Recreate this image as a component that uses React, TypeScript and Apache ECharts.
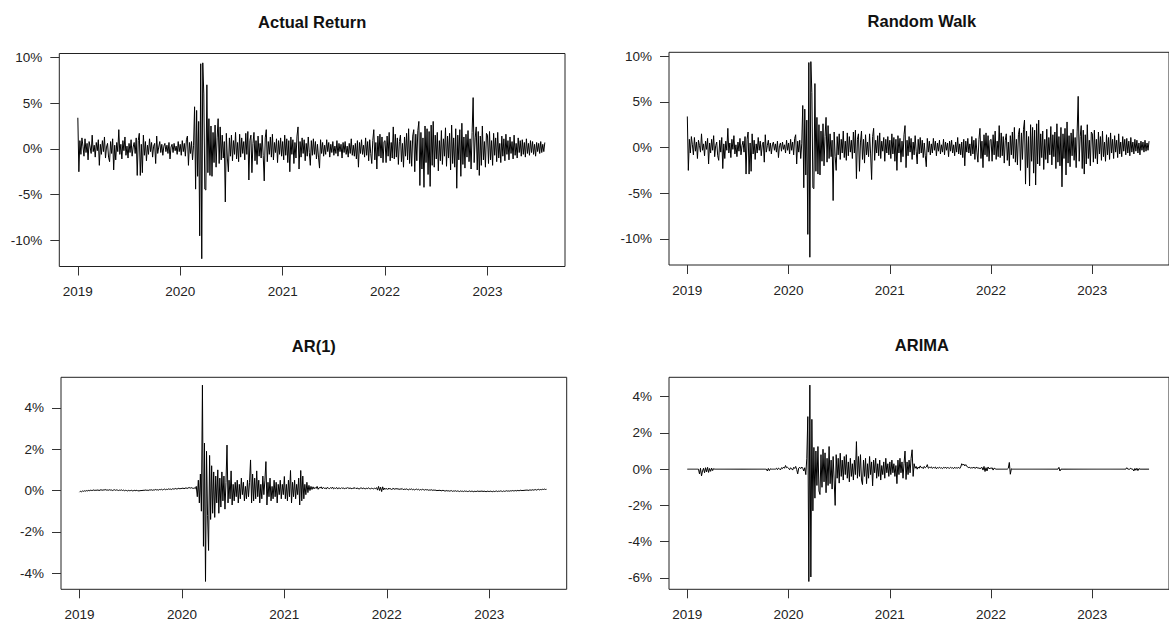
import React, { useEffect, useRef } from "react";
import * as echarts from "echarts";

// Tick labels on the time axis (years)
const yearTicks = [2019, 2020, 2021, 2022, 2023];
// Titles of the four panels
const panelTitles = ["Actual Return", "Random Walk", "AR(1)", "ARIMA"];
// Y tick values (percent) per panel
const yTicksActual = [-10, -5, 0, 5, 10];
const yTicksAR = [-4, -2, 0, 2, 4];
const yTicksARIMA = [-6, -4, -2, 0, 2, 4];

const actual2019 = [
  3.4, -2.5, 0.9, -0.6, 1.2, 0.3, -0.8, 1.1, -0.4, 0.6,
  -1.2, 0.8, 0.2, -0.5, 1.5, -0.3, 0.4, -0.9, 0.7, -0.2,
  1.0, -1.8, 0.5, -0.6, 0.9, -0.3, 1.3, -1.0, 0.2, 0.6,
  -0.9, -1.4, 0.8, -0.5, 1.1, -2.3, 0.4, -1.2, 0.7, -0.3,
  2.1, -0.6, 0.5, -1.1, 0.9, -0.2, 1.3, -0.7, 0.3, -1.0,
  0.6, -0.4, 1.0, -0.8, 0.2, 0.7, -0.5, 1.2, -2.9, 0.9,
  1.7, -2.9, 0.5, -2.6, 1.5, -0.7, 0.8, -1.3, 0.4, -0.6,
  1.1, -0.3, 0.7, -0.9, 0.3, 0.6, -1.6, 1.4, -0.5, 0.2,
  0.8, -0.4, 0.5, -0.7, 0.3, 0.6, -0.3, 0.4, -0.5, 0.7,
  -1.1, 0.2, 0.5, -0.4, 0.6, -0.2, 0.3, -0.6, 0.8, -0.3,
];
const actual2020 = [
  0.5, -0.7, 0.9, -0.3, 0.6, -0.8, 1.0, 1.4, -1.8, 0.7,
  -0.5, 0.8, -1.2, 0.4, 4.6, -4.4, 4.2, -3.0, 3.0, -9.5,
  9.3, -12.0, 9.4, 6.0, -4.4, -4.5, 7.0, -2.6, 3.3, -2.9,
  2.5, -3.0, 1.8, -1.5, 2.6, -2.0, 1.2, 3.3, -1.6, 2.4,
  -1.2, 1.5, -1.0, 0.8, -5.8, 1.7, -1.0, -2.5, 1.2, -0.8,
  1.5, -1.3, 0.9, -0.6, 1.8, -1.1, 0.7, -1.4, 1.6, -0.9,
  1.2, -0.5, 0.8, -1.2, 1.7, -0.6, 1.9, -3.4, 0.9, 1.5,
  -2.6, 0.6, 1.8, -1.3, 0.9, -1.7, 1.4, -0.8, 0.6, -1.0,
  1.5, -0.7, -3.5, 1.2, 2.1, -1.4, 0.8, -0.6, 1.3, -0.9,
  1.6, -1.2, 0.7, -0.4, 1.1, -1.5, 0.9, -0.6, 1.2, -0.8,
];
const actual2021 = [
  0.8, -1.2, 1.5, -0.7, 1.1, -1.5, 0.9, -2.5, 1.3, -0.6,
  1.0, -1.6, 0.7, -1.0, 1.4, 2.4, -2.2, 0.8, -0.9, 1.2,
  -0.5, 1.0, -1.3, 0.6, -0.8, 1.3, -0.4, -1.8, 0.9, -0.7,
  1.1, -0.6, 0.8, -1.1, 0.5, -0.9, -2.1, 1.0, -0.5, 0.7,
  -0.8, 0.4, -0.6, 1.0, -0.3, 0.7, -0.9, 0.5, -0.4, 0.8,
  -0.7, 0.3, -0.5, 0.9, -0.8, 0.6, -0.3, 0.5, -1.0, 0.7,
  -0.4, 0.8, -0.6, 0.3, -0.9, 0.6, -0.5, 1.1, -0.7, 0.4,
  -0.8, 0.6, -1.1, 0.9, -2.0, 0.7, -0.5, 1.0, -0.6, 0.4,
  -0.9, 1.2, -0.7, 0.8, -1.3, 1.0, -0.5, -1.6, 0.9, 2.1,
  -1.2, 0.7, -2.2, 1.4, -0.8, 1.6, -1.0, 1.3, -1.5, 0.8,
];
const actual2022 = [
  0.9, -1.5, 1.4, -0.8, 1.8, -1.3, 0.7, -1.0, 2.4, -1.1,
  1.6, -0.9, 1.2, -1.7, 0.8, 1.5, -1.4, 0.6, -2.0, 1.3,
  -0.8, 1.7, -1.2, 2.2, -1.6, 0.9, -1.9, 1.4, 2.1, -2.5,
  1.6, -1.3, 2.0, 3.0, -4.0, 1.8, -2.2, 1.2, -4.2, 2.5,
  -1.5, 2.2, -2.8, 1.9, -4.1, 2.6, -1.8, 3.0, -2.0, 1.5,
  -1.1, 1.8, -2.4, 0.9, -1.3, 2.0, -1.7, 1.1, -0.8, 2.3,
  -1.9, 1.4, -1.0, 1.7, -2.3, 2.6, -1.6, 1.2, -2.0, 2.2,
  -4.3, 1.5, -1.2, 2.1, -3.0, 2.8, -1.7, 1.3, -2.1, 1.6,
  -0.9, 2.0, -1.4, 1.1, -2.2, 1.8, 5.6, -1.5, 1.2, 2.4,
  -2.3, 1.9, -2.9, 1.4, -1.8, 2.5, -1.2, 0.8, -2.0, 1.7,
];
const actual2023 = [
  1.5, -1.6, 1.9, -1.2, 0.9, -1.8, 1.7, -0.7, 1.2, -1.4,
  1.8, -1.0, 0.6, -1.5, 1.4, -0.8, 1.1, -1.3, 1.6, -0.6,
  0.9, -1.2, 1.3, -0.5, 0.8, -1.1, 1.5, -0.7, 0.6, -1.0,
  1.2, -0.4, 0.9, -0.8, 1.0, -0.6, 0.7, -0.9, 1.1, -0.5,
  0.6, -0.7, 0.9, -0.4, 0.8, -0.6, 0.5, -0.8, 0.7, -0.3,
  0.6, -0.5, 0.8, -0.4, 0.5, -0.3, 0.7,
];

// AR(1) fitted returns (%)
const ar2019 = [
  -0.08, -0.03, -0.06, -0.02, -0.04, -0.01, -0.03, 0.0, -0.02, 0.01,
  -0.01, 0.02, 0.0, 0.01, 0.03, 0.0, 0.02, 0.01, 0.03, 0.0,
  0.02, 0.04, 0.01, 0.03, 0.02, 0.05, 0.02, 0.03, 0.01, 0.04,
  0.02, 0.03, 0.0, 0.02, 0.04, 0.01, 0.03, 0.02, 0.0, 0.02,
  0.01, 0.03, 0.0, 0.02, -0.01, 0.01, 0.0, -0.02, 0.01, -0.01,
  0.0, 0.01, -0.02, 0.0, 0.01, -0.01, 0.02, -0.03, 0.0, -0.02,
  0.01, -0.01, 0.02, 0.0, 0.03, 0.01, 0.02, 0.0, 0.03, 0.02,
  0.04, 0.01, 0.03, 0.02, 0.05, 0.03, 0.04, 0.02, 0.05, 0.04,
  0.06, 0.03, 0.05, 0.07, 0.04, 0.06, 0.05, 0.08, 0.06, 0.07,
  0.05, 0.09, 0.07, 0.08, 0.1, 0.07, 0.09, 0.11, 0.08, 0.1,
];
const ar2020 = [
  0.1, 0.12, 0.09, 0.11, 0.13, 0.1, 0.12, 0.15, 0.11, 0.14,
  0.12, 0.1, 0.13, 0.09, 0.2, -0.3, 0.5, -0.6, 0.8, -1.0,
  5.1, -2.7, 2.3, -4.4, 1.9, -1.2, -2.9, 1.7, -1.4, 1.2,
  -1.1, 0.9, -1.3, 0.7, -0.6, 1.0, -1.1, 0.6, -0.8, 0.9,
  -0.5, 0.7, -0.9, 0.4, 2.2, -0.6, 0.5, -0.4, 0.95, -0.7,
  0.3, -0.5, 0.4, -0.3, 0.5, -0.6, 0.3, -0.4, 0.6, -0.2,
  0.4, -0.5, 0.2, -0.4, 0.5, -0.3, 0.4, 1.48, -0.6, 0.8,
  -0.5, 0.6, -0.4, 0.95, -0.3, 0.5, -0.6, 0.3, -0.4, 0.7,
  -0.2, 0.5, 1.4, -0.7, 0.4, -0.3, 0.6, -0.5, 0.2, -0.4,
  0.5, -0.3, 0.4, -0.6, 0.3, -0.2, 0.5, -0.4, 0.3, -0.2,
];
const ar2021 = [
  0.68, -0.4, 0.3, -0.5, 0.5, -0.3, 0.97, -0.6, 0.4, -0.3,
  0.5, -0.4, 0.3, -0.2, 0.6, -0.7, 0.97, -0.5, 0.7, -0.4,
  0.3, -0.2, 0.4, -0.1, 0.25, 0.0, 0.2, 0.05, 0.18, 0.08,
  0.15, 0.1, 0.2, 0.06, 0.14, 0.12, 0.18, 0.08, 0.15, 0.1,
  0.13, 0.07, 0.16, 0.11, 0.09, 0.14, 0.1, 0.17, 0.08, 0.12,
  0.1, 0.15, 0.07, 0.13, 0.11, 0.09, 0.14, 0.1, 0.12, 0.08,
  0.13, 0.1, 0.15, 0.09, 0.12, 0.11, 0.08, 0.13, 0.1, 0.14,
  0.09, 0.12, 0.1, 0.07, 0.11, 0.13, 0.09, 0.12, 0.1, 0.08,
  0.11, 0.09, 0.13, 0.1, 0.07, 0.12, 0.1, 0.08, 0.11, 0.09,
  0.14, 0.02, 0.2, 0.0, 0.16, -0.05, 0.18, 0.03, 0.12, 0.06,
];
const ar2022 = [
  0.1, 0.05, 0.12, 0.07, 0.09, 0.04, 0.11, 0.08, 0.06, 0.1,
  0.07, 0.09, 0.05, 0.08, 0.06, 0.1, 0.04, 0.07, 0.05, 0.08,
  0.06, 0.03, 0.07, 0.05, 0.08, 0.04, 0.06, 0.03, 0.05, 0.07,
  0.04, 0.06, 0.02, 0.05, 0.03, 0.06, 0.04, 0.02, 0.05, 0.03,
  0.04, 0.01, 0.03, 0.02, 0.04, 0.0, 0.03, 0.01, 0.02, -0.01,
  0.01, 0.0, 0.02, -0.02, 0.0, 0.01, -0.01, -0.03, 0.0, -0.02,
  -0.01, -0.03, -0.02, 0.0, -0.04, -0.02, -0.03, -0.01, -0.04, -0.02,
  -0.03, -0.05, -0.02, -0.04, -0.03, -0.05, -0.02, -0.04, -0.03, -0.05,
  -0.04, -0.02, -0.05, -0.03, -0.04, -0.06, -0.03, -0.05, -0.04, -0.02,
  -0.05, -0.03, -0.04, -0.02, -0.05, -0.03, -0.04, -0.06, -0.03, -0.04,
];
const ar2023 = [
  -0.05, -0.03, -0.04, -0.06, -0.03, -0.05, -0.04, -0.02, -0.05, -0.03,
  -0.04, -0.02, -0.03, -0.05, -0.02, -0.04, -0.03, -0.01, -0.03, -0.02,
  -0.03, -0.01, -0.02, 0.0, -0.02, -0.01, 0.0, -0.02, 0.01, -0.01,
  0.0, 0.02, -0.01, 0.01, 0.0, 0.02, 0.01, 0.03, 0.0, 0.02,
  0.03, 0.01, 0.04, 0.02, 0.03, 0.05, 0.02, 0.04, 0.06, 0.03,
  0.05, 0.04, 0.06, 0.05, 0.07, 0.05, 0.06,
];

// ARIMA fitted returns (%)
const arima2019 = [
  0, 0, 0, 0, 0, 0, 0, 0, 0, 0,
  0, 0, -0.26, 0.05, -0.37, -0.1, 0.05, -0.2, 0.08, -0.15,
  0.1, -0.18, 0.04, -0.12, 0.06, -0.08, 0.03, 0, 0, 0,
  0, 0, 0, 0, 0, 0, 0, 0, 0, 0,
  0, 0, 0, 0, 0, 0, 0, 0, 0, 0,
  0, 0, 0, 0, 0, 0, 0, 0, 0, 0,
  0, 0, 0, 0, 0, 0, 0, 0, 0, 0,
  0, 0, 0, 0, 0, 0, 0, 0, 0, -0.1,
  0.04, -0.08, 0.02, 0, 0, 0, 0, 0, 0.05, -0.03,
  0.06, 0.02, -0.04, 0.08, 0.03, 0.12, 0.05, 0.2, 0.08, 0.1,
];
const arima2020 = [
  0.05, -0.03, 0.08, 0.02, -0.05, 0.1, 0.04, 0.15, -0.02, -0.26,
  0.06, 0.1, 0.03, 0.12, 0.05, -0.1, 0.08, -0.3, 0.6, 2.9,
  -6.2, 4.64, -5.95, 2.75, -2.3, 1.2, -1.6, 1.0, -0.9, 1.25,
  -1.2, -1.4, 0.8, -1.0, 1.1, -0.7, 0.9, -1.3, 0.6, -0.9,
  1.25, -0.8, 0.5, -1.1, 0.7, -0.6, -2.0, 0.8, -0.5, 0.6,
  -0.77, 0.88, -0.4, 0.5, -0.6, 0.7, -0.3, 0.8, -0.5, 0.4,
  -0.7, 0.6, -0.4, 0.3, -0.6, 0.5, -0.3, 1.52, -0.5, 0.7,
  -0.4, 0.8, -0.6, -0.85, 0.5, -0.4, 0.6, -0.8, 0.3, -0.5,
  0.7, -0.3, 0.4, -0.92, 0.5, -0.2, 0.6, -0.5, 0.3, -0.4,
  0.5, -0.6, 0.2, -0.3, 0.4, -0.5, 0.6, -0.2, 0.3, -0.4,
];
const arima2021 = [
  0.4, -0.3, 0.5, -0.2, 0.3, -0.4, 0.2, -0.8, 0.5, -0.3,
  0.6, -0.2, 0.4, -0.5, 0.3, 1.0, -0.57, 0.4, -0.3, 0.5,
  -0.2, 0.6, 1.07, -0.4, 0.3, 0.05, 0.15, 0.0, 0.12, 0.05,
  0.18, 0.08, 0.1, 0.03, 0.15, 0.07, 0.12, 0.25, 0.05, 0.1,
  0.08, 0.13, 0.04, 0.1, 0.07, 0.12, 0.02, 0.09, 0.06, 0.11,
  0.05, 0.08, 0.03, 0.1, 0.06, 0.12, 0.04, 0.09, 0.07, 0.05,
  0.1, 0.06, 0.08, 0.03, 0.11, 0.05, 0.08, 0.06, 0.1, 0.04,
  0.12, 0.3, 0.22, 0.28, 0.18, 0.25, 0.15, 0.12, 0.08, 0.1,
  0.05, 0.09, 0.06, 0.12, 0.04, 0.08, 0.1, 0.05, 0.07, 0.03,
  0.06, 0.1, -0.05, 0.15, -0.13, 0.08, -0.1, 0.12, 0.02, 0.06,
];
const arima2022 = [
  0.04, 0.08, -0.05, 0.06, 0.02, 0, 0, 0, 0, 0,
  0, 0, 0, 0, 0, 0, 0, 0.05, 0.37, -0.28,
  0.02, 0, 0, 0, 0, 0, 0, 0, 0, 0,
  0, 0, 0, 0, 0, 0, 0, 0, 0, 0,
  0, 0, 0, 0, 0, 0, 0, 0, 0, 0,
  0, 0, 0, 0, 0, 0, 0, 0, 0, 0,
  0, 0, 0, 0, 0, 0, 0, 0.1, -0.1, 0,
  0, 0, 0, 0, 0, 0, 0, 0, 0, 0,
  0, 0, 0, 0, 0, 0, 0, 0, 0, 0,
  0, 0, 0, 0, 0, 0, 0, 0, 0, 0,
];
const arima2023 = [
  0, 0, 0, 0, 0, 0, 0, 0, 0, 0,
  0, 0, 0, 0, 0, 0, 0, 0, 0, 0,
  0, 0, 0, 0, 0, 0, 0, 0, 0, 0,
  0, 0, 0, 0, 0.08, 0, 0, 0, 0.05, 0,
  0, -0.1, 0.04, -0.06, 0.05, -0.08, 0.03, 0, 0, 0,
  0, 0, 0, 0, 0, 0, 0,
];

const actualReturn = [...actual2019, ...actual2020, ...actual2021, ...actual2022, ...actual2023];
// The random-walk forecast is indistinguishable from the actual series in the reference
const randomWalk = actualReturn;
const ar1 = [...ar2019, ...ar2020, ...ar2021, ...ar2022, ...ar2023];
const arima = [...arima2019, ...arima2020, ...arima2021, ...arima2022, ...arima2023];

const START_YEAR = 2019;
const STEP_YEAR = 0.01;

// Layout (pixels) — kept separate from data
const layout = [
  { left: 59.3, top: 53.5, height: 213, yMin: -12.85, yMax: 10.42, titleY: 21.7 },
  { left: 669, top: 52.3, height: 212.7, yMin: -12.85, yMax: 10.42, titleY: 20.8 },
  { left: 61, top: 377.3, height: 212, yMin: -4.78, yMax: 5.48, titleY: 346 },
  { left: 669, top: 377.3, height: 212, yMin: -6.63, yMax: 5.07, titleY: 345 },
];
const PANEL_W = 505.7;
const X_MIN = 2018.819;
const X_MAX = 2023.757;
const FONT = "'Liberation Sans', Arial, Helvetica, sans-serif";

export default function App() {
  const ref = useRef<HTMLDivElement>(null);
  useEffect(() => {
    document.body.style.margin = "0";
    if (!ref.current) return;
    const chart = echarts.init(ref.current, undefined, { renderer: "svg" });
    const seriesValues = [actualReturn, randomWalk, ar1, arima];
    const yTicks = [yTicksActual, yTicksActual, yTicksAR, yTicksARIMA];
    const toXY = (vals: number[]) => vals.map((v, i) => [START_YEAR + i * STEP_YEAR, v]);

    const option: any = {
      animation: false,
      backgroundColor: "#ffffff",
      grid: layout.map((l) => ({
        left: l.left,
        top: l.top,
        width: PANEL_W,
        height: l.height,
        show: true,
        borderColor: "#222",
        borderWidth: 1,
        backgroundColor: "transparent",
        containLabel: false,
      })),
      xAxis: layout.map((_, i) => ({
        type: "value",
        gridIndex: i,
        position: "bottom",
        min: X_MIN,
        max: X_MAX,
        axisLine: { show: false, onZero: false },
        splitLine: { show: false },
        axisTick: {
          show: true,
          length: 9,
          customValues: yearTicks,
          lineStyle: { color: "#333", width: 1 },
        },
        axisLabel: {
          customValues: yearTicks,
          margin: 18,
          fontSize: 13.5,
          color: "#222",
          fontFamily: FONT,
          formatter: (v: number) => String(Math.round(v)),
        },
      })),
      yAxis: layout.map((l, i) => ({
        type: "value",
        gridIndex: i,
        position: "left",
        min: l.yMin,
        max: l.yMax,
        axisLine: { show: false, onZero: false },
        splitLine: { show: false },
        axisTick: {
          show: true,
          length: 9,
          customValues: yTicks[i],
          lineStyle: { color: "#333", width: 1 },
        },
        axisLabel: {
          customValues: yTicks[i],
          margin: 17,
          fontSize: 13.5,
          color: "#222",
          fontFamily: FONT,
          formatter: (v: number) => `${Math.round(v)}%`,
        },
      })),
      series: seriesValues.map((vals, i) => ({
        type: "line",
        xAxisIndex: i,
        yAxisIndex: i,
        data: toXY(vals),
        showSymbol: false,
        symbol: "none",
        silent: true,
        clip: true,
        lineStyle: { color: "#000", width: 1, join: "round" },
      })),
      graphic: layout.map((l, i) => ({
        type: "text",
        x: l.left + PANEL_W / 2,
        y: l.titleY,
        silent: true,
        style: {
          text: panelTitles[i],
          fontSize: 16.5,
          fontWeight: "bold",
          fontFamily: FONT,
          fill: "#111",
          align: "center",
          verticalAlign: "middle",
        },
      })),
    };
    chart.setOption(option);
    return () => chart.dispose();
  }, []);
  return <div ref={ref} style={{ width: 1169, height: 622 }} />;
}
